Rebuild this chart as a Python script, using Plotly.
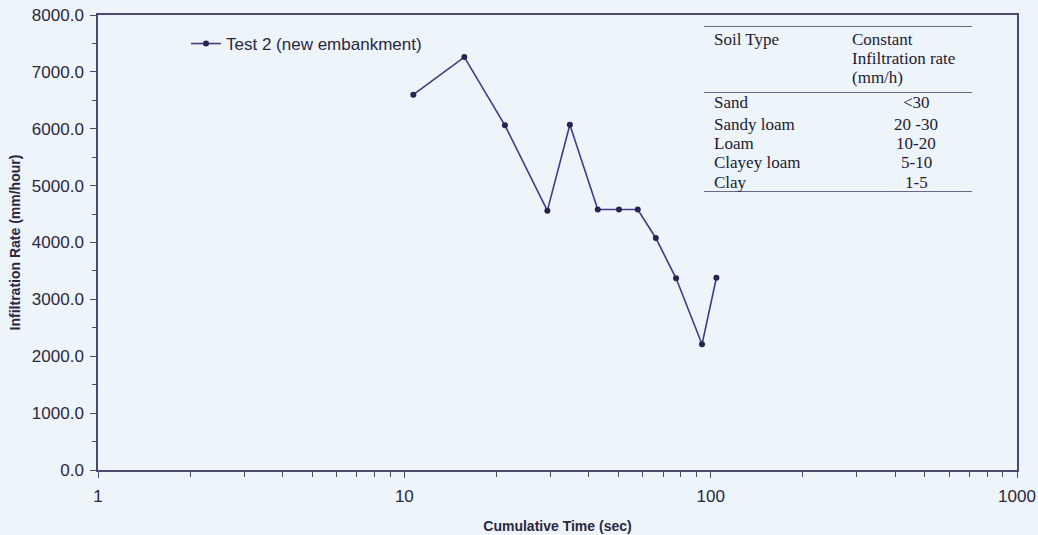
import plotly.graph_objects as go

# Test 2 infiltration readings
time_sec = [10.7, 15.7, 21.3, 29.3, 34.7, 42.8, 50.2, 57.8, 66.2, 77.1, 93.7, 104.4]
rate_mm_hr = [6600, 7260, 6060, 4560, 6070, 4580, 4580, 4580, 4080, 3370, 2210, 3380]
series_name = "Test 2 (new embankment)"

# Reference table of constant infiltration rates
soil_types = ["Sand", "Sandy loam", "Loam", "Clayey loam", "Clay"]
soil_rates = ["<30", "20 -30", "10-20", "5-10", "1-5"]

W, H = 1038, 535
L, R, T, B = 98, 21, 15, 65
PW, PH = W - L - R, H - T - B

def px(x):
    return (x - L) / PW

def py(y):
    return 1 - (y - T) / PH

BG = "#edf4fa"
INK = "#433a85"
AX = "#4e4770"
TXT = "#2b2740"

fig = go.Figure()
fig.add_trace(go.Scatter(
    x=time_sec, y=rate_mm_hr, mode="lines+markers", name=series_name,
    line=dict(color=INK, width=1.6),
    marker=dict(color="#2a2250", size=6, symbol="circle"),
))

serif = dict(family="Liberation Serif, Times New Roman, serif", size=17, color="#1e1a33")
ann = []
shapes = []
for yy in (26.5, 92.5, 191.5):
    shapes.append(dict(type="line", xref="paper", yref="paper",
                       x0=px(704), x1=px(972), y0=py(yy), y1=py(yy),
                       line=dict(color="#6a6788", width=1.2)))
ann.append(dict(text="Soil Type", x=px(712), y=py(39), xanchor="left", yanchor="middle"))
for txt, yy in (("Constant", 39), ("Infiltration rate", 58), ("(mm/h)", 78)):
    ann.append(dict(text=txt, x=px(850), y=py(yy), xanchor="left", yanchor="middle"))
row_y = [103, 124, 143, 163, 182]
for name, val, yy in zip(soil_types, soil_rates, row_y):
    ann.append(dict(text=name, x=px(712), y=py(yy), xanchor="left", yanchor="middle"))
    ann.append(dict(text=val, x=px(916), y=py(yy), xanchor="center", yanchor="middle"))
for a in ann:
    a.update(xref="paper", yref="paper", showarrow=False, font=serif)

sans = "Liberation Sans, Arial, sans-serif"
fig.update_layout(
    width=W, height=H,
    margin=dict(l=L, r=R, t=T, b=B),
    paper_bgcolor=BG, plot_bgcolor=BG,
    showlegend=True,
    legend=dict(x=px(186), y=py(26), xanchor="left", yanchor="top",
                bgcolor="rgba(0,0,0,0)", font=dict(family=sans, size=17, color=TXT),
                itemwidth=30),
    annotations=ann,
    shapes=shapes,
    xaxis=dict(
        type="log", range=[0, 3], automargin=False,
        tickvals=[1, 10, 100, 1000], ticktext=["1", "10", "100", "1000"],
        ticks="outside", ticklen=6, tickcolor=AX, ticklabelstandoff=4,
        minor=dict(ticks="outside", ticklen=5, tickcolor=AX,
                   tickvals=[m * d for d in (1, 10, 100) for m in range(2, 10)]),
        showgrid=False, zeroline=False,
        showline=True, linecolor=AX, linewidth=1.5, mirror=True,
        tickfont=dict(family=sans, size=17, color=TXT),
        title=dict(text="<b>Cumulative Time (sec)</b>", standoff=16,
                   font=dict(family=sans, size=14, color=TXT)),
    ),
    yaxis=dict(
        range=[0, 8000], dtick=1000, tickformat=".1f", automargin=False,
        ticks="outside", ticklen=6, tickcolor=AX, ticklabelstandoff=3,
        minor=dict(ticks="outside", ticklen=4, tickcolor=AX, dtick=500),
        showgrid=False, zeroline=False,
        showline=True, linecolor=AX, linewidth=1.5, mirror=True,
        tickfont=dict(family=sans, size=17, color=TXT),
        title=dict(text="<b>Infiltration Rate (mm/hour)</b>", standoff=8,
                   font=dict(family=sans, size=14, color=TXT)),
    ),
)

fig.write_html("out.html")
